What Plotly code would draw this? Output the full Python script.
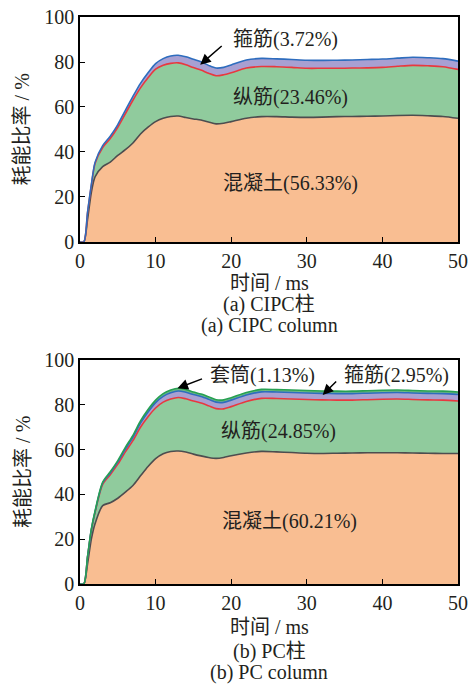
import plotly.graph_objects as go
from plotly.subplots import make_subplots

# Time axis (ms)
time_ms = [0, 0.5, 1, 1.5, 2, 3, 4, 5, 6, 7, 8, 9, 10, 11, 12, 13, 14, 15, 16, 17, 18, 19, 20,
           22, 24, 26, 28, 30, 32, 34, 36, 38, 40, 42, 44, 46, 48, 50]

# (a) CIPC column: cumulative energy-dissipation ratio (%) at the top of each layer
cipc_concrete = [0, 0, 10, 22, 29, 33.5, 35.5, 38.5, 41, 44, 48, 51, 53.5, 55, 55.8, 56, 55.3, 54.7,
                 54.2, 53.3, 52.5, 52.8, 53.5, 55, 55.7, 55.7, 55.5, 55.4, 55.5, 55.7, 55.8, 55.9,
                 56, 56.2, 56.3, 56.1, 55.8, 55]
cipc_long = [0, 0, 13, 25, 35, 42, 46, 51, 57, 63, 68.5, 73, 76.8, 78.5, 79.4, 79.6, 78.8, 77.5,
             76.4, 75, 73.9, 74.3, 75.2, 77.3, 78, 77.9, 77.6, 77.2, 77.2, 77.2, 77.3, 77.4,
             77.6, 78.1, 78.5, 78.3, 77.9, 76.7]
cipc_stirrup = [0, 0, 13.3, 25.5, 35.5, 42.8, 47, 52.2, 58.5, 64.7, 70.5, 75.2, 79.3, 81.5, 82.7,
                83, 82.3, 81.2, 80.1, 78.5, 77.3, 77.6, 78.7, 80.9, 81.6, 81.4, 81.1, 80.8, 80.7,
                80.8, 80.9, 81.1, 81.3, 81.7, 82.1, 81.9, 81.5, 80.4]

# (b) PC column
pc_concrete = [0, 0, 9, 20, 27, 35, 36.3, 38.3, 41, 44, 48.3, 52.5, 56, 58.2, 59.2, 59.4, 58.9, 58,
               57.2, 56.5, 56.1, 56.5, 57.3, 58.5, 59.2, 59, 58.7, 58.4, 58.3, 58.4, 58.5, 58.6,
               58.6, 58.6, 58.5, 58.4, 58.3, 58.3]
pc_long = [0, 0, 12, 24, 32, 44.5, 48.8, 53.5, 59, 64, 70, 74.7, 78.6, 81.2, 82.6, 83.3, 82.7, 81.7,
           80.8, 79.6, 78.3, 78.2, 79.2, 81.5, 82.9, 82.8, 82.6, 82.4, 82.2, 82.1, 82.1, 82.3,
           82.5, 82.6, 82.4, 82.2, 82.1, 81.7]
pc_stirrup = [0, 0, 12.2, 24.3, 32.4, 45.1, 49.6, 54.5, 60.2, 65.5, 71.8, 76.8, 81, 83.8, 85.4,
              86.2, 85.6, 84.6, 83.7, 82.5, 81.2, 81.1, 82.1, 84.4, 85.8, 85.7, 85.5, 85.3, 85.1,
              85, 85, 85.2, 85.4, 85.5, 85.3, 85.1, 85, 84.6]
pc_sleeve = [0, 0, 12.3, 24.5, 32.7, 45.5, 50.1, 55.1, 61, 66.4, 72.8, 77.9, 82.1, 85, 86.6, 87.4,
             86.8, 85.7, 84.8, 83.6, 82.3, 82.2, 83.2, 85.5, 86.9, 86.8, 86.6, 86.4, 86.2, 86.1,
             86.1, 86.3, 86.5, 86.6, 86.4, 86.2, 86.1, 85.7]

x_ticks = [0, 10, 20, 30, 40, 50]
y_ticks = [0, 20, 40, 60, 80, 100]

FONT = "Liberation Serif, Times New Roman, Noto Sans CJK SC, serif"
TXT = "#231f20"

C_CONC_FILL, C_CONC_LINE = "#F9BE92", "#4d4d4f"
C_LONG_FILL, C_LONG_LINE = "#90CB9D", "#E8383F"
C_STIR_FILL, C_STIR_LINE = "#A8A0D2", "#2E6DBE"
C_SLV_FILL, C_SLV_LINE = "#6DBA82", "#27A052"

fig = make_subplots(rows=2, cols=1, vertical_spacing=0.0)


def layer(y, fill_col, line_col, first, row):
    fig.add_trace(go.Scatter(
        x=time_ms, y=y, mode="lines",
        line=dict(color=line_col, width=1.6, shape="spline", smoothing=0.8),
        fill="tozeroy" if first else "tonexty", fillcolor=fill_col,
        showlegend=False, hoverinfo="skip"), row=row, col=1)


layer(cipc_concrete, C_CONC_FILL, C_CONC_LINE, True, 1)
layer(cipc_long, C_LONG_FILL, C_LONG_LINE, False, 1)
layer(cipc_stirrup, C_STIR_FILL, C_STIR_LINE, False, 1)

layer(pc_concrete, C_CONC_FILL, C_CONC_LINE, True, 2)
layer(pc_long, C_LONG_FILL, C_LONG_LINE, False, 2)
layer(pc_stirrup, C_STIR_FILL, C_STIR_LINE, False, 2)
layer(pc_sleeve, C_SLV_FILL, C_SLV_LINE, False, 2)

axis_common = dict(showline=True, linecolor="black", linewidth=1.5, mirror=True,
                   ticks="inside", ticklen=5, tickwidth=1.3, tickcolor="black",
                   showgrid=False, zeroline=False, automargin=False,
                   tickfont=dict(family=FONT, size=20, color=TXT))

fig.update_xaxes(range=[0, 50], tickvals=x_ticks, **axis_common)
fig.update_yaxes(range=[0, 100], tickvals=y_ticks, **axis_common)
fig.update_layout(
    yaxis=dict(domain=[0.6032, 1.0]),
    yaxis2=dict(domain=[0.0, 0.395]),
)

ann = []


def text(x, y, s, xref, yref, size=20, **kw):
    ann.append(dict(x=x, y=y, text=s, xref=xref, yref=yref, showarrow=False,
                    xanchor="center", yanchor="middle",
                    font=dict(family=FONT, size=size, color=TXT), **kw))


def arrow(x, y, ax, ay, xref, yref):
    ann.append(dict(x=x, y=y, ax=ax, ay=ay, xref=xref, yref=yref, text="",
                    showarrow=True, arrowhead=2, arrowsize=1.4, arrowwidth=1.5,
                    arrowcolor="black"))


# In-plot layer labels, top panel
text(27.2, 89.8, "箍筋(3.72%)", "x", "y")
arrow(15.9, 78.8, 23, -20, "x", "y")
text(27.9, 64.4, "纵筋(23.46%)", "x", "y")
text(27.9, 26.2, "混凝土(56.33%)", "x", "y")

# In-plot layer labels, bottom panel
text(24.2, 93.3, "套筒(1.13%)", "x2", "y2")
arrow(12.9, 87.4, 26, -10, "x2", "y2")
text(41.9, 93.3, "箍筋(2.95%)", "x2", "y2")
arrow(32.1, 84.4, 15, -15, "x2", "y2")
text(26.3, 67.9, "纵筋(24.85%)", "x2", "y2")
text(27.7, 27.7, "混凝土(60.21%)", "x2", "y2")

# Axis titles and captions (paper coordinates)
H = 567.0


def py(pix):
    return (584 - pix) / H


for ymid in [(17 + 242) / 2, (360 + 584) / 2]:
    text(-0.151, py(ymid), "耗能比率 / %", "paper", "paper", textangle=-90)

text(0.5, py(283), "时间 / ms", "paper", "paper")
text(0.5, py(304), "(a) CIPC柱", "paper", "paper")
text(0.5, py(325), "(a) CIPC column", "paper", "paper")
text(0.5, py(627), "时间 / ms", "paper", "paper")
text(0.5, py(651), "(b) PC柱", "paper", "paper")
text(0.5, py(672), "(b) PC column", "paper", "paper")

fig.update_layout(
    width=472, height=687,
    margin=dict(l=80, r=14, t=17, b=103),
    paper_bgcolor="white", plot_bgcolor="white",
    annotations=ann,
    font=dict(family=FONT, color=TXT),
)

fig.write_html("out.html")
